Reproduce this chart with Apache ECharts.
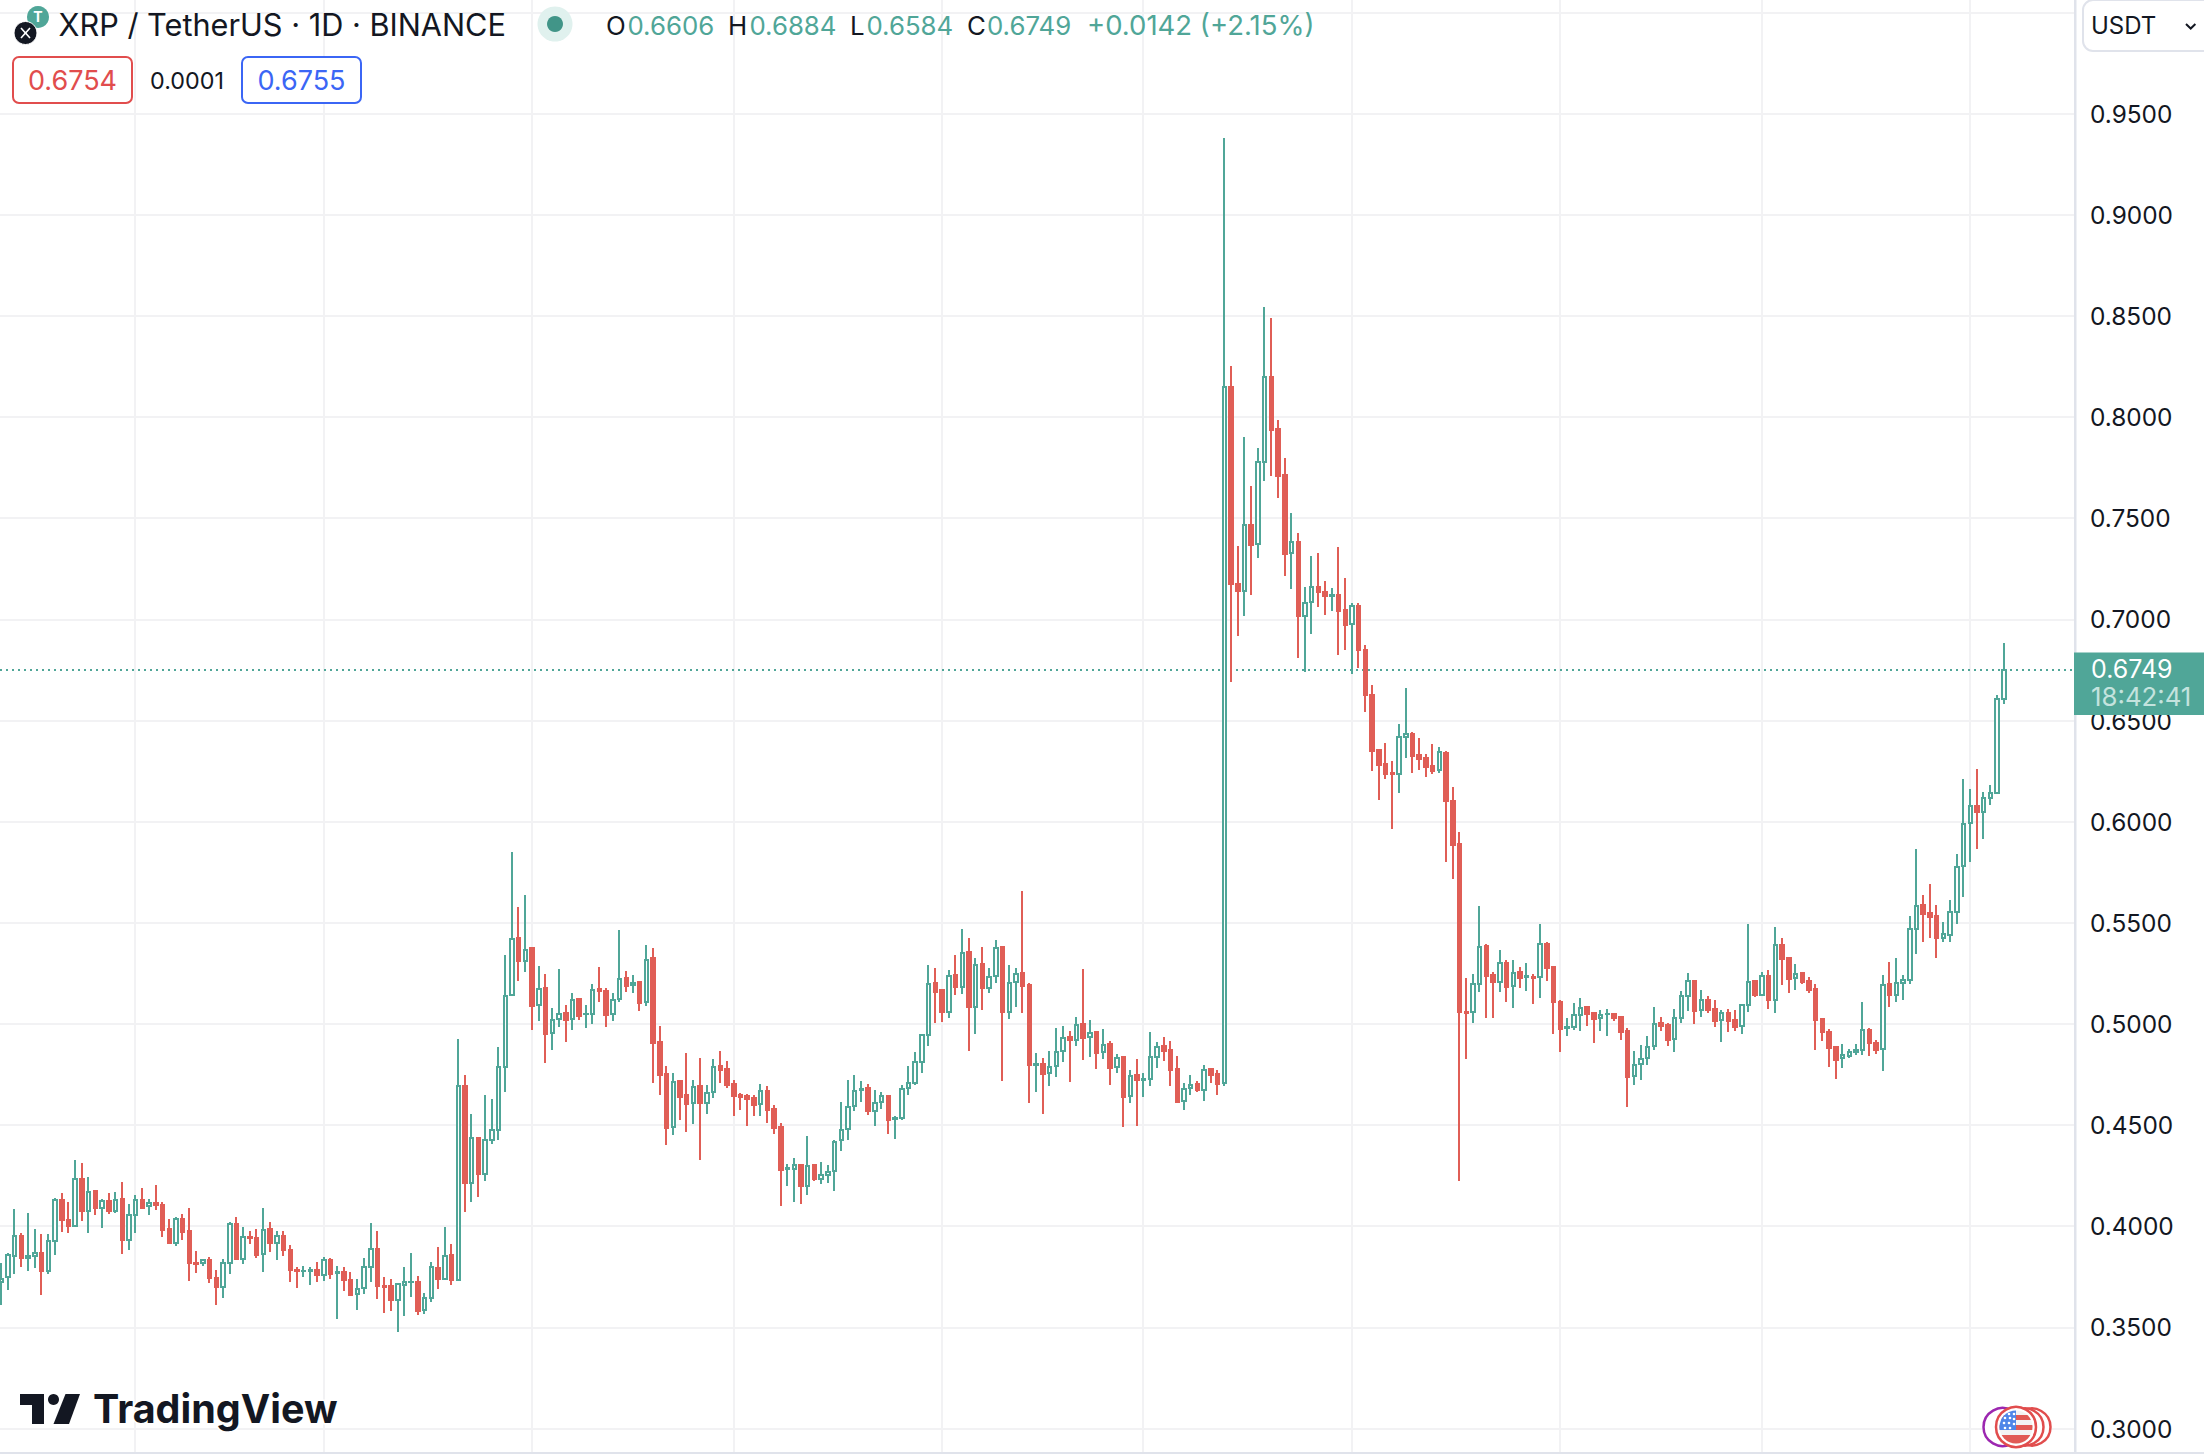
<!DOCTYPE html>
<html>
<head>
<meta charset="utf-8">
<style>html,body{margin:0;padding:0;background:#fff}#c{width:2204px;height:1454px}
#c path[stroke="#50A698" i],#c path[stroke="#E05E56" i],#c path[stroke="rgb(80,166,152)"],#c path[stroke="rgb(224,94,86)"]{shape-rendering:crispEdges}</style>
<script src="https://cdn.jsdelivr.net/npm/echarts@6/dist/echarts.min.js"></script>
</head>
<body>
<div id="c"></div>
<script>
const firstDay = '2023-01-12';
const monthStarts = ['2023-02-01','2023-03-01','2023-04-01','2023-05-01','2023-06-01','2023-07-01','2023-08-01','2023-09-01','2023-10-01','2023-11-01'];
const lastPrice = 0.6749;
const opens = [
.3723,.3747,.3855,.3954,.3842,.3852,.3868,.3778,.3928,.4131,
.4033,.4000,.4234,.4076,.4172,.4091,.4126,.4073,.4135,.3933,
.4056,.4131,.4098,.4116,.4107,.3984,.3916,.4038,.3974,.3819,
.3816,.3835,.3745,.3700,.3819,.4009,.3839,.3948,.3944,.3864,
.3984,.3918,.3953,.3883,.3785,.3778,.3780,.3785,.3760,.3834,
.3770,.3775,.3735,.3666,.3695,.3799,.3888,.3705,.3702,.3636,
.3710,.3722,.3725,.3587,.3646,.3794,.3740,.3859,.3735,.4694,
.4216,.4437,.4259,.4427,.4478,.4787,.5141,.5425,.5313,.5374,
.5092,.5176,.4953,.5023,.5052,.5023,.5122,.5047,.5047,.5171,
.5161,.5047,.5122,.5225,.5191,.5206,.5107,.5324,.4909,.4751,
.4490,.4716,.4647,.4607,.4691,.4611,.4662,.4790,.4775,.4701,
.4647,.4644,.4632,.4602,.4668,.4578,.4489,.4283,.4284,.4301,
.4200,.4301,.4235,.4251,.4271,.4424,.4483,.4594,.4674,.4681,
.4572,.4612,.4646,.4529,.4533,.4681,.4709,.4814,.4943,.5202,
.5167,.5060,.5241,.5184,.5355,.5086,.5296,.5180,.5235,.5380,
.5060,.5205,.5251,.5192,.4798,.4801,.4755,.4790,.4864,.4935,
.4923,.5001,.4933,.4959,.4859,.4900,.4785,.4836,.4646,.4747,
.4725,.4730,.4839,.4890,.4870,.4777,.4617,.4681,.4702,.4674,
.4775,.4752,.4707,.8149,.7176,.7142,.7467,.7372,.7776,.8198,
.7942,.7714,.7326,.7382,.7015,.7086,.7160,.7135,.7116,.7121,
.7047,.6979,.7068,.6850,.6628,.6354,.6286,.6240,.6235,.6417,
.6435,.6331,.6316,.6277,.6255,.6339,.6103,.5890,.5061,.5058,
.5197,.5386,.5243,.5208,.5300,.5187,.5258,.5233,.5234,.5233,
.5396,.5281,.5109,.4979,.4985,.5043,.5084,.5055,.5028,.5047,
.5048,.5035,.4966,.4743,.4801,.4831,.4890,.5005,.4995,.4925,
.5028,.5137,.5213,.5068,.5119,.5075,.5019,.5055,.5020,.4989,
.5094,.5213,.5145,.5238,.5117,.5391,.5327,.5226,.5253,.5213,
.5173,.5025,.4961,.4887,.4834,.4843,.4860,.4870,.4972,.4908,
.4875,.5196,.5143,.5204,.5219,.5471,.5587,.5547,.5532,.5424,
.5442,.5555,.5780,.5992,.6078,.6050,.6116,.6142,.6606];
const closes = [
.3740,.3857,.3951,.3842,.3852,.3868,.3778,.3926,.4129,.4030,
.4000,.4231,.4073,.4168,.4088,.4124,.4073,.4132,.3931,.4055,
.4129,.4091,.4114,.4104,.3981,.3915,.4037,.3971,.3817,.3812,
.3832,.3743,.3699,.3817,.4010,.3837,.3946,.3941,.3860,.3981,
.3916,.3951,.3882,.3783,.3778,.3781,.3783,.3758,.3832,.3766,
.3773,.3733,.3662,.3692,.3798,.3887,.3704,.3700,.3633,.3712,
.3723,.3725,.3583,.3643,.3798,.3740,.3852,.3733,.4693,.4213,
.4435,.4257,.4424,.4475,.4786,.5138,.5421,.5313,.5365,.5090,
.5174,.4952,.5019,.5051,.5019,.5120,.5041,.5051,.5169,.5164,
.5044,.5118,.5224,.5187,.5204,.5105,.5318,.4907,.4747,.4487,
.4715,.4640,.4606,.4690,.4609,.4660,.4789,.4772,.4700,.4645,
.4639,.4627,.4601,.4667,.4576,.4487,.4279,.4286,.4301,.4199,
.4299,.4233,.4251,.4270,.4418,.4477,.4589,.4669,.4679,.4571,
.4610,.4645,.4524,.4533,.4679,.4707,.4813,.4943,.5198,.5157,
.5058,.5238,.5182,.5352,.5083,.5292,.5177,.5233,.5376,.5058,
.5203,.5248,.5187,.4796,.4801,.4752,.4788,.4862,.4931,.4920,
.4996,.4930,.4956,.4855,.4897,.4781,.4834,.4638,.4744,.4722,
.4729,.4837,.4887,.4865,.4773,.4613,.4679,.4699,.4671,.4773,
.4748,.4702,.8151,.7176,.7140,.7465,.7368,.7776,.8197,.7937,
.7709,.7324,.7381,.7017,.7082,.7158,.7135,.7116,.7119,.7042,
.6973,.7064,.6847,.6628,.6351,.6281,.6237,.6234,.6417,.6433,
.6326,.6311,.6272,.6252,.6342,.6100,.5885,.5061,.5056,.5195,
.5378,.5239,.5205,.5299,.5185,.5254,.5229,.5238,.5229,.5393,
.5277,.5106,.4976,.4984,.5042,.5081,.5050,.5025,.5045,.5050,
.5030,.4961,.4738,.4798,.4829,.4888,.5002,.4992,.4921,.5027,
.5136,.5210,.5065,.5116,.5070,.5015,.5052,.5015,.4986,.5096,
.5208,.5144,.5239,.5119,.5388,.5322,.5223,.5249,.5208,.5168,
.5020,.4961,.4882,.4822,.4845,.4860,.4870,.4970,.4906,.4871,
.5193,.5142,.5203,.5219,.5470,.5583,.5542,.5529,.5424,.5443,
.5554,.5776,.5989,.6076,.6048,.6116,.6142,.6606,.6749];
const lows = [
.3610,.3684,.3766,.3798,.3778,.3793,.3659,.3763,.3860,.3971,
.3966,.3997,.4025,.3966,.4055,.3990,.4058,.4066,.3862,.3882,
.3966,.4083,.4053,.4078,.3946,.3910,.3901,.3934,.3727,.3771,
.3801,.3717,.3613,.3644,.3766,.3837,.3811,.3910,.3845,.3776,
.3875,.3832,.3855,.3722,.3694,.3748,.3709,.3722,.3727,.3738,
.3539,.3682,.3653,.3588,.3667,.3722,.3638,.3573,.3583,.3476,
.3554,.3649,.3559,.3564,.3623,.3692,.3737,.3707,.3728,.4068,
.4119,.4142,.4226,.4404,.4424,.4663,.5141,.5212,.5258,.4972,
.5014,.4807,.4871,.4985,.4911,.4970,.5019,.4980,.5000,.5108,
.4985,.5014,.5108,.5158,.5153,.5064,.5089,.4708,.4649,.4401,
.4451,.4525,.4466,.4505,.4327,.4555,.4634,.4708,.4683,.4545,
.4574,.4495,.4545,.4545,.4510,.4456,.4100,.4199,.4120,.4110,
.4154,.4223,.4210,.4215,.4176,.4373,.4426,.4571,.4613,.4549,
.4495,.4580,.4455,.4430,.4523,.4648,.4697,.4757,.4890,.5007,
.5012,.5029,.5142,.5147,.4865,.4950,.5068,.5152,.5202,.4717,
.5024,.5083,.5053,.4608,.4663,.4554,.4692,.4737,.4811,.4712,
.4890,.4821,.4836,.4777,.4826,.4697,.4757,.4490,.4608,.4495,
.4638,.4692,.4781,.4816,.4692,.4608,.4574,.4648,.4663,.4618,
.4707,.4648,.4692,.6690,.6918,.7017,.7121,.7305,.7684,.7709,
.7601,.7215,.7151,.6810,.6740,.6929,.7061,.7022,.7042,.6824,
.6849,.6731,.6761,.6544,.6252,.6108,.6212,.5965,.6143,.6316,
.6242,.6257,.6222,.6237,.6242,.5801,.5717,.4225,.4827,.5007,
.5159,.5030,.5030,.5159,.5109,.5080,.5178,.5164,.5099,.5129,
.5213,.4951,.4862,.4941,.4971,.4966,.4990,.4906,.4966,.4941,
.5015,.4921,.4590,.4699,.4724,.4798,.4872,.4966,.4892,.4862,
.5005,.5065,.5000,.5035,.5055,.4986,.4911,.4961,.4966,.4951,
.5060,.5134,.5136,.5075,.5055,.5193,.5154,.5168,.5198,.5154,
.4872,.4916,.4788,.4728,.4781,.4830,.4845,.4845,.4840,.4850,
.4766,.5082,.5107,.5117,.5196,.5344,.5404,.5424,.5325,.5404,
.5404,.5493,.5626,.5799,.5864,.5913,.6081,.6136,.6584];
const highs = [
.3819,.3868,.4086,.3967,.4063,.3987,.3964,.3962,.4140,.4165,
.4122,.4328,.4313,.4244,.4175,.4135,.4165,.4170,.4219,.4111,
.4155,.4190,.4135,.4205,.4122,.4037,.4047,.4061,.4091,.3878,
.3839,.3849,.3786,.3839,.4022,.4047,.3997,.3977,.3984,.4091,
.4022,.3977,.3977,.3908,.3799,.3804,.3799,.3824,.3849,.3844,
.3804,.3799,.3775,.3740,.3844,.4017,.3977,.3750,.3740,.3715,
.3799,.3868,.3755,.3671,.3824,.3898,.3997,.3913,.4926,.4749,
.4556,.4437,.4650,.4630,.4887,.5339,.5848,.5576,.5636,.5374,
.5285,.5245,.5077,.5270,.5092,.5151,.5127,.5092,.5196,.5281,
.5176,.5151,.5463,.5260,.5240,.5206,.5389,.5374,.4988,.4790,
.4756,.4716,.4855,.4721,.4830,.4696,.4825,.4866,.4815,.4721,
.4657,.4652,.4647,.4701,.4693,.4597,.4508,.4306,.4335,.4301,
.4444,.4301,.4316,.4301,.4425,.4612,.4725,.4750,.4716,.4701,
.4673,.4666,.4648,.4547,.4696,.4791,.4861,.4948,.5291,.5276,
.5167,.5269,.5340,.5467,.5427,.5324,.5378,.5276,.5413,.5385,
.5291,.5276,.5657,.5202,.4856,.4831,.4866,.4979,.4989,.4964,
.5034,.5271,.5019,.4959,.4974,.4915,.4851,.4841,.4772,.4826,
.4755,.4959,.4910,.4935,.4915,.4841,.4706,.4747,.4717,.4795,
.4781,.4772,.9382,.8253,.7363,.7902,.7660,.7849,.8544,.8491,
.7986,.7799,.7527,.7428,.7160,.7314,.7329,.7190,.7156,.7358,
.7206,.7081,.7081,.6875,.6677,.6361,.6390,.6301,.6484,.6662,
.6445,.6415,.6336,.6385,.6370,.6348,.6172,.5950,.5228,.5248,
.5584,.5396,.5258,.5366,.5317,.5317,.5282,.5302,.5248,.5495,
.5406,.5287,.5119,.5030,.5104,.5129,.5089,.5060,.5070,.5075,
.5050,.5040,.4981,.4867,.4897,.4941,.5084,.5035,.5005,.5075,
.5164,.5253,.5213,.5168,.5139,.5119,.5070,.5075,.5070,.5096,
.5495,.5218,.5256,.5267,.5480,.5426,.5327,.5297,.5258,.5233,
.5198,.5025,.4976,.4887,.4903,.4878,.4900,.5107,.4979,.4919,
.5241,.5305,.5325,.5241,.5532,.5864,.5636,.5691,.5587,.5503,
.5611,.5839,.6210,.6160,.6259,.6145,.6180,.6628,.6884];

const DAY = 86400000;
const UP = '#50A698', DOWN = '#E05E56', INK = '#131722', GRID = '#F2F2F4', EDGE = '#E0E3EB';
const FONT = 'Inter';
const t0 = new Date(firstDay).getTime();
const candles = opens.map((o, i) => [t0 + i * DAY, o, closes[i], lows[i], highs[i]]);

function txt(x, y, text, size, fill, extra) {
  return { type: 'text', z: 100, x: x, y: y, silent: true,
    style: Object.assign({ text: text, fontFamily: FONT, fontSize: size, fill: fill, textVerticalAlign: 'middle', verticalAlign: 'middle', align: 'left' }, extra || {}) };
}
function box(x, y, w, h, r, stroke, fill, lw) {
  return { type: 'rect', z: 100, silent: true, shape: { x: x, y: y, width: w, height: h, r: r },
    style: { fill: fill || '#fff', stroke: stroke, lineWidth: lw === undefined ? 2 : lw } };
}
function circ(cx, cy, r, fill, stroke, lw, z) {
  return { type: 'circle', z: z || 100, silent: true, shape: { cx: cx, cy: cy, r: r },
    style: { fill: fill, stroke: stroke || null, lineWidth: lw || 0 } };
}
function poly(points, fill) {
  return { type: 'polygon', z: 100, silent: true, shape: { points: points }, style: { fill: fill } };
}
function line(points, stroke, lw) {
  return { type: 'polyline', z: 100, silent: true, shape: { points: points }, style: { stroke: stroke, lineWidth: lw, fill: null } };
}
const flagSvg = "<svg xmlns='http://www.w3.org/2000/svg' width='68' height='68' viewBox='0 0 34 34'><clipPath id='a'><circle cx='17' cy='17' r='16.5'/></clipPath><g clip-path='url(#a)'><rect width='34' height='34' fill='#F3F3F3'/><rect y='5' width='34' height='5' fill='#E15A55'/><rect y='15' width='34' height='5' fill='#E15A55'/><rect y='25' width='34' height='9' fill='#E15A55'/><rect width='17' height='20' fill='#4F86E8'/><g fill='#fff'><circle cx='6' cy='8' r='1.3'/><circle cx='11' cy='8' r='1.3'/><circle cx='15' cy='4' r='1.3'/><circle cx='10' cy='4' r='1.3'/><circle cx='5' cy='13' r='1.3'/><circle cx='10' cy='13' r='1.3'/><circle cx='15' cy='9' r='1.3'/><circle cx='15' cy='14' r='1.3'/><circle cx='6' cy='18' r='1.3'/><circle cx='11' cy='18' r='1.3'/></g></g></svg>";

const graphics = [
  // header
  circ(38, 17, 11, '#50A698'),
  txt(38, 16, 'T', 14, '#fff', { align: 'center', fontWeight: 700 }),
  circ(25.5, 33, 11.5, '#131722', '#fff', 1),
  line([[21, 28], [25.5, 33], [30, 28]], '#fff', 1.6),
  line([[21, 38], [25.5, 33], [30, 38]], '#fff', 1.6),
  txt(58.5, 24.5, 'XRP / TetherUS · 1D · BINANCE', 30.7, INK),
  circ(555, 24, 17.5, '#E0F1EE'),
  circ(555, 24, 8, '#419588'),
  txt(606, 25, 'O', 25.8, INK), txt(627.5, 25, '0.6606', 25.8, UP),
  txt(728, 25, 'H', 25.8, INK), txt(749.5, 25, '0.6884', 25.8, UP),
  txt(850, 25, 'L', 25.8, INK), txt(866.5, 25, '0.6584', 25.8, UP),
  txt(967, 25, 'C', 25.8, INK), txt(987, 25, '0.6749', 25.8, UP),
  txt(1087, 25, '+0.0142 (+2.15%)', 27.5, UP),
  box(13, 57, 119, 46, 6, '#E14D4D'),
  txt(72.5, 80.5, '0.6754', 27, '#E14D4D', { align: 'center' }),
  txt(187, 80, '0.0001', 23.3, INK, { align: 'center' }),
  box(242, 57, 119, 46, 6, '#3B66F5'),
  txt(301.5, 80.5, '0.6755', 27, '#3B66F5', { align: 'center' }),
  // watermark
  poly([[20, 1394], [44, 1394], [44, 1424], [32, 1424], [32, 1405], [20, 1405]], INK),
  circ(53.5, 1399.5, 5.5, INK),
  poly([[65.5, 1394], [80, 1394], [69, 1424], [53.5, 1424]], INK),
  txt(93, 1408.5, 'TradingView', 39.5, INK, { fontWeight: 700, stroke: '#fff', lineWidth: 3 }),
  // right scale furniture
  { type: 'rect', z: 90, silent: true, shape: { x: 2074, y: 0, width: 2.5, height: 1454 }, style: { fill: EDGE } },
  { type: 'rect', z: 90, silent: true, shape: { x: 0, y: 1452, width: 2204, height: 2 }, style: { fill: EDGE } },
  box(2083, 0, 135, 51, 10, EDGE),
  txt(2091, 25.5, 'USDT', 24, INK),
  line([[2186, 24], [2190.7, 28.5], [2195.4, 24]], INK, 2),
  { type: 'rect', z: 100, silent: true, shape: { x: 2074, y: 652.5, width: 130, height: 62.5 }, style: { fill: UP } },
  txt(2091, 668.5, '0.6749', 25, '#fff'),
  txt(2091, 696, '18:42:41', 25.8, '#C4E3DE'),
  // event marker
  circ(2032, 1427, 18.5, '#fff', '#E14D4D', 2.5),
  circ(2025, 1427, 18.5, '#fff', '#E14D4D', 2.5),
  circ(2002.5, 1427, 19, '#fff', '#9C27B0', 2.5),
  circ(2016, 1427, 20, '#fff', '#E14D4D', 2.5),
  { type: 'image', z: 100, silent: true, style: { image: 'data:image/svg+xml;utf8,' + encodeURIComponent(flagSvg), x: 1999, y: 1410, width: 34, height: 34 } }
];

const chart = echarts.init(document.getElementById('c'), null, { renderer: 'svg', width: 2204, height: 1454 });
chart.setOption({
  animation: false,
  backgroundColor: '#fff',
  grid: { left: 0, width: 2075, top: -88.6, height: 1618.24, containLabel: false, outerBoundsMode: 'none' },
  xAxis: { type: 'time', min: t0 - 0.12 * DAY, max: t0 + 308.66 * DAY, show: false, splitLine: { show: false } },
  yAxis: {
    type: 'value', position: 'right', min: 0.25, max: 1.05, interval: 0.05,
    axisLine: { show: false }, axisTick: { show: false },
    axisLabel: { margin: 15, color: INK, fontFamily: FONT, fontSize: 24.4, padding: [1, 0, 0, 0],
      formatter: v => ((v > 0.96 || v < 0.29) ? '' : v.toFixed(4)) },
    splitLine: { show: true, lineStyle: { color: GRID, width: 2 } }
  },
  series: [
    { type: 'line', data: [], z: 1, silent: true, symbol: 'none',
      markLine: { silent: true, symbol: 'none', label: { show: false },
        lineStyle: { color: GRID, width: 2, type: 'solid' },
        data: monthStarts.map(m => ({ xAxis: new Date(m).getTime() })) } },
    { type: 'candlestick', name: 'XRP/USDT', data: candles, z: 5, barWidth: 4,
      itemStyle: { color: '#fff', color0: DOWN, borderColor: UP, borderColor0: DOWN, borderWidth: 2 } },
    { type: 'line', data: [], z: 6, silent: true, symbol: 'none',
      markLine: { silent: true, symbol: 'none', precision: 4, label: { show: false },
        lineStyle: { color: UP, width: 2, type: [2, 4] },
        data: [{ yAxis: lastPrice }] } }
  ],
  graphic: graphics
});
</script>
</body>
</html>
